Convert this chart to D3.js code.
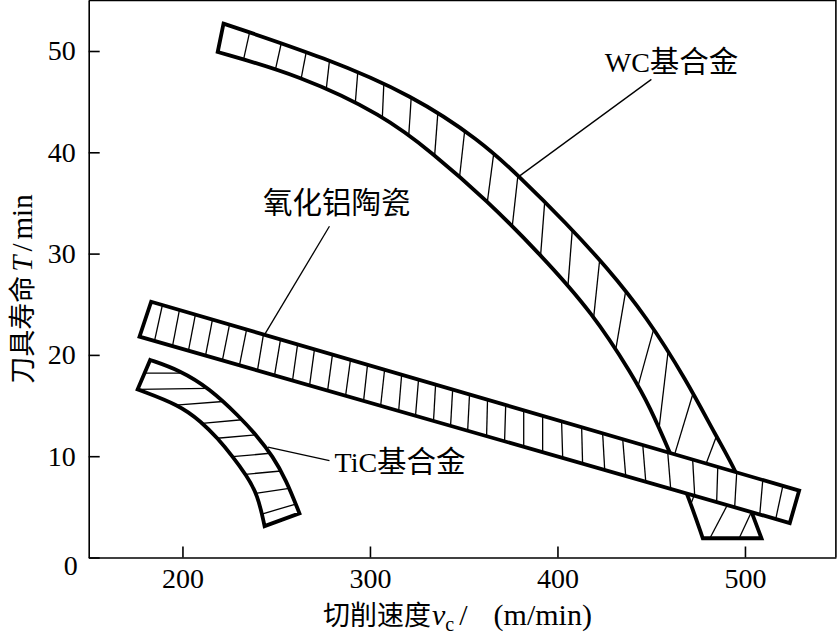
<!DOCTYPE html>
<html><head><meta charset="utf-8">
<script src="https://cdn.jsdelivr.net/npm/d3@7"></script>
<style>body{margin:0;background:#fff;} svg{display:block;}</style>
</head><body>
<svg id="chart" width="837" height="633"></svg>
<script>
// ---------- data ----------
const xTicks = [200, 300, 400, 500];
const yTicks = [0, 10, 20, 30, 40, 50];
const xDomain = [150, 548.5];
const yDomain = [0, 55];

// WC-based alloy band
const wcUpperV = [221.9, 276.7, 322.9, 358.5, 379.8, 404.7, 426.1, 447.4, 468.8, 484.8, 495.5, 503.5, 508.8];
const wcUpperT = [52.7, 49.3, 45.6, 41.2, 37.6, 33.0, 28.7, 23.8, 17.5, 11.9, 8.5, 4.5, 1.9];
const wcLowerV = [218.8, 262.4, 306.9, 333.6, 362.1, 390.5, 419.0, 440.3, 449.2, 459.9, 469.5, 477.5];
const wcLowerT = [49.9, 47.6, 43.7, 39.9, 35.3, 30.0, 24.1, 17.9, 14.9, 10.4, 6.2, 1.9];
const wcHatchTopV = [235.8, 252.7, 266.0, 278.4, 293.5, 307.4, 322.0, 336.2, 350.5, 366.0, 378.9, 393.2, 407.9, 422.5, 436.4, 451.3, 459.0, 472.3, 484.8, 497.2, 503.5];
const wcHatchBottomV = [232.6, 249.6, 263.3, 276.7, 292.2, 306.6, 320.7, 334.5, 347.8, 362.6, 375.9, 391.0, 405.6, 419.3, 431.1, 443.0, 454.2, 461.6, 471.1, 481.3, 496.9];

// Alumina ceramic band
const aluUpperV = [183.3, 528.9];
const aluUpperT = [25.25, 6.6];
const aluLowerV = [177.1, 523.9];
const aluLowerT = [21.8, 3.4];
const aluHatchTopV = [189.3, 198.4, 206.9, 216.0, 225.1, 234.2, 243.2, 252.3, 261.4, 270.4, 280.0, 289.6, 298.7, 307.8, 316.9, 325.9, 335.0, 344.1, 353.1, 362.7, 372.4, 382.0, 392.1, 402.2, 412.9, 424.1, 434.8, 445.5, 458.8, 472.1, 485.5, 495.6, 509.5, 520.2];
const aluHatchBottomV = [185.1, 194.7, 203.2, 212.3, 221.3, 230.4, 240.0, 249.1, 258.7, 267.8, 277.4, 287.0, 296.6, 305.7, 315.3, 324.3, 333.9, 343.0, 352.1, 362.2, 371.8, 382.0, 392.1, 402.8, 413.4, 425.2, 436.4, 447.1, 460.4, 473.2, 484.9, 494.5, 507.9, 516.4];

// TiC-based alloy band
const ticUpperV = [182.8, 198.4, 214.4, 230.4, 239.3, 248.2, 255.3, 262.4];
const ticUpperT = [19.5, 18.5, 16.7, 13.9, 12.1, 10.0, 7.65, 4.36];
const ticLowerV = [176.1, 198.4, 210.0, 218.8, 226.8, 234.0, 240.2, 243.8];
const ticLowerT = [16.6, 15.05, 13.4, 11.77, 9.95, 8.14, 6.17, 3.1];
const ticHatchLowerT = [18.2, 16.6, 15.05, 13.25, 11.77, 9.95, 8.21, 6.34, 4.29];
const ticHatchUpperT = [18.2, 16.7, 15.4, 13.6, 12.1, 10.29, 8.54, 6.83, 5.28];

// annotations
const labelText = ["WC基合金", "氧化铝陶瓷", "TiC基合金"];
const labelV = [425.2, 242.9, 281.1];
const labelT = [47.9, 33.96, 8.48];
const leaderFromV = [450.1, 278.4, 278.4];
const leaderFromT = [47.2, 32.7, 9.56];
const leaderToV = [379.3, 243.8, 245.6];
const leaderToT = [37.6, 22.0, 10.9];

// ---------- drawing ----------
const svg = d3.select("#chart");
const W = 837, H = 633;
const x = d3.scaleLinear().domain(xDomain).range([88.7, 835.9]);
const y = d3.scaleLinear().domain(yDomain).range([557.5, 0.35]);

const serif = "'Liberation Serif','Times New Roman',serif";
const cjk = "'Noto Sans CJK SC','Liberation Serif',sans-serif";

svg.append("rect").attr("width", W).attr("height", H).attr("fill", "#fff");

const pts = (V, T) => V.map((v, i) => [x(v), y(T[i])]);
const curve = d3.line().curve(d3.curveBasis);
const straight = d3.line();

function samplePath(d) {
  const p = svg.append("path").attr("d", d).attr("fill", "none").attr("stroke", "none");
  const node = p.node();
  const L = node.getTotalLength();
  const out = [];
  for (let s = 0; s <= L; s += 0.4) { const q = node.getPointAtLength(s); out.push([q.x, q.y]); }
  const q = node.getPointAtLength(L); out.push([q.x, q.y]);
  p.remove();
  return out;
}
function crossAt(samples, idx, val) {
  for (let i = 0; i < samples.length - 1; i++) {
    const a = samples[i][idx], b = samples[i + 1][idx];
    if ((a - val) * (b - val) <= 0 && a !== b) {
      const t = (val - a) / (b - a);
      return [samples[i][0] + t * (samples[i + 1][0] - samples[i][0]),
              samples[i][1] + t * (samples[i + 1][1] - samples[i][1])];
    }
  }
  let best = samples[0], bd = Infinity;
  samples.forEach(p => { const d = Math.abs(p[idx] - val); if (d < bd) { bd = d; best = p; } });
  return best;
}

function drawBand(outlineD, hatches) {
  const g = svg.append("g");
  g.append("path").attr("d", outlineD).attr("fill", "#fff").attr("stroke", "none");
  g.selectAll("line.h").data(hatches).join("line")
    .attr("x1", d => d[0][0]).attr("y1", d => d[0][1])
    .attr("x2", d => d[1][0]).attr("y2", d => d[1][1])
    .attr("stroke", "#000").attr("stroke-width", 1.3);
  g.append("path").attr("d", outlineD).attr("fill", "none")
    .attr("stroke", "#000").attr("stroke-width", 3.8).attr("stroke-linejoin", "miter");
}

// WC band
{
  const up = pts(wcUpperV, wcUpperT);
  const lo = pts(wcLowerV, wcLowerT);
  const upD = curve(up);
  const loD = curve(lo);
  const loBoundaryD = loD + "L" + up[up.length - 1].join(",");
  const outline = upD + curve(lo.slice().reverse()).replace(/^M/, "L") + "Z";
  const su = samplePath(upD), sl = samplePath(loBoundaryD);
  const hatches = wcHatchTopV.map((v, i) => [crossAt(su, 0, x(v)), crossAt(sl, 0, x(wcHatchBottomV[i]))]);
  drawBand(outline, hatches);
}
// TiC band
{
  const up = pts(ticUpperV, ticUpperT);
  const lo = pts(ticLowerV, ticLowerT);
  const upD = curve(up);
  const loD = curve(lo);
  const loBoundaryD = "M" + up[0].join(",") + loD.replace(/^M/, "L");
  const outline = upD + curve(lo.slice().reverse()).replace(/^M/, "L") + "Z";
  const su = samplePath(upD), sl = samplePath(loBoundaryD);
  const hatches = ticHatchLowerT.map((t, i) => [crossAt(sl, 1, y(t)), crossAt(su, 1, y(ticHatchUpperT[i]))]);
  drawBand(outline, hatches);
}
// Alumina band (on top)
{
  const up = pts(aluUpperV, aluUpperT);
  const lo = pts(aluLowerV, aluLowerT);
  const upD = straight(up);
  const loD = straight(lo);
  const outline = upD + straight(lo.slice().reverse()).replace(/^M/, "L") + "Z";
  const su = samplePath(upD), sl = samplePath(loD);
  const hatches = aluHatchTopV.map((v, i) => [crossAt(su, 0, x(v)), crossAt(sl, 0, x(aluHatchBottomV[i]))]);
  drawBand(outline, hatches);
}

// leader lines and labels
svg.append("g").selectAll("line").data(labelText).join("line")
  .attr("x1", (d, i) => x(leaderFromV[i])).attr("y1", (d, i) => y(leaderFromT[i]))
  .attr("x2", (d, i) => x(leaderToV[i])).attr("y2", (d, i) => y(leaderToT[i]))
  .attr("stroke", "#000").attr("stroke-width", 1.3);
const lab = svg.append("g").selectAll("text").data(labelText).join("text")
  .attr("x", (d, i) => x(labelV[i])).attr("y", (d, i) => y(labelT[i]))
  .attr("fill", "#000");
lab.each(function (d) {
  const parts = d.match(/[A-Za-z]+|[^A-Za-z]+/g);
  const t = d3.select(this);
  parts.forEach(p => {
    const latin = /^[A-Za-z]/.test(p);
    t.append("tspan").attr("font-family", latin ? serif : cjk)
      .attr("font-size", latin ? 28 : 29.5).text(p);
  });
});

// axes
const xAxis = d3.axisBottom(x).tickValues(xTicks).tickSizeInner(-11).tickSizeOuter(0).tickPadding(10.5);
const yAxis = d3.axisLeft(y).tickValues(yTicks).tickSizeInner(-11).tickSizeOuter(0).tickPadding(13);
const gx = svg.append("g").attr("transform", `translate(0,${y(0)})`).call(xAxis);
const gy = svg.append("g").attr("transform", `translate(${x(xDomain[0])},0)`).call(yAxis);
[gx, gy].forEach(g => {
  g.selectAll("path,line").attr("stroke", "#000").attr("stroke-width", 1.6);
  g.selectAll("text").attr("font-family", serif).attr("font-size", 28).attr("fill", "#000");
});
gy.selectAll(".tick").filter(d => d === 0).select("text").attr("x", -11).attr("dy", "0.62em").attr("y", 0);
// frame top/right
svg.append("path")
  .attr("d", `M${x(xDomain[0])},${y(yDomain[1])}H${x(xDomain[1])}V${y(0)}`)
  .attr("fill", "none").attr("stroke", "#000").attr("stroke-width", 1.6);

// axis titles
const xt = svg.append("text").attr("x", 323).attr("y", 624.5).attr("fill", "#000");
xt.append("tspan").attr("font-family", cjk).attr("font-size", 27).text("切削速度");
xt.append("tspan").attr("font-family", serif).attr("font-size", 30).attr("font-style", "italic").attr("dx", 1).text("v");
xt.append("tspan").attr("font-family", serif).attr("font-size", 20).attr("dy", 6).text("c");
xt.append("tspan").attr("font-family", serif).attr("font-size", 30).attr("dy", -6).attr("dx", 5).text("/");
xt.append("tspan").attr("font-family", serif).attr("font-size", 30).attr("dx", 26).text("(m/min)");

const yt = svg.append("text").attr("transform", "translate(32,289) rotate(-90)")
  .attr("text-anchor", "middle").attr("fill", "#000");
yt.append("tspan").attr("font-family", cjk).attr("font-size", 27).text("刀具寿命");
yt.append("tspan").attr("font-family", serif).attr("font-size", 29).attr("font-style", "italic").attr("dx", 4).text("T");
yt.append("tspan").attr("font-family", serif).attr("font-size", 29).attr("dx", 4).text("/");
yt.append("tspan").attr("font-family", serif).attr("font-size", 29).attr("dx", 4).text("min");
</script>
</body></html>
